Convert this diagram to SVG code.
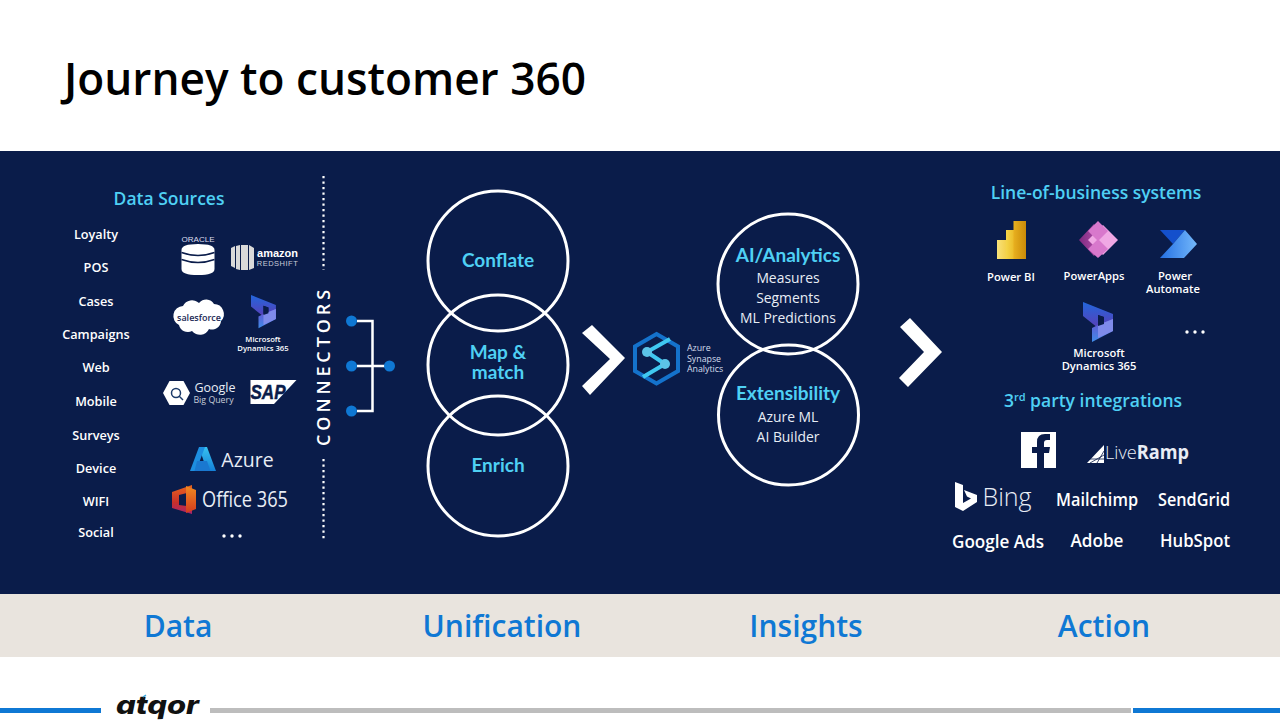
<svg xmlns="http://www.w3.org/2000/svg" width="1280" height="720" viewBox="0 0 1280 720">
<style>
text{font-family:"Open Sans","Noto Sans","Liberation Sans",sans-serif;text-anchor:middle;fill:#fff}
.h{fill:#4fd0f4;font-size:17.5px;font-weight:600}
.l{font-size:12.700px;font-weight:600}
.c{fill:none;stroke:#fff;stroke-width:3}
.ct{fill:#4fd0f4;font-family:Lato,"Open Sans",sans-serif;font-size:19px;font-weight:700}
.s{font-size:13.900px;fill:#e8edf5}
.b{fill:#0f78d4;font-size:30px;font-weight:600}
.t{font-size:18px;font-weight:600}
.m{font-size:11.200px;font-weight:600}
.d{fill:#fff}
.dot{fill:#0f78d4}
.chev{fill:#fff}
.wire{fill:none;stroke:#fff;stroke-width:2.500}
.dots{stroke:#fff;stroke-width:2.200;stroke-dasharray:2.200 3.300}
.st{font-size:8.800px;text-anchor:start;fill:#d6dcec}
</style>
<defs>
<linearGradient id="pb1" x1="0" y1="0" x2="1" y2="0"><stop offset="0" stop-color="#f8e27a"/><stop offset="1" stop-color="#f2c93a"/></linearGradient>
<linearGradient id="pb2" x1="0" y1="0" x2="1" y2="0"><stop offset="0" stop-color="#f5d64a"/><stop offset="1" stop-color="#e6ae18"/></linearGradient>
<linearGradient id="pb3" x1="0" y1="0" x2="1" y2="0"><stop offset="0" stop-color="#e8b020"/><stop offset="1" stop-color="#c98a08"/></linearGradient>
<linearGradient id="dy1" x1="0" y1="0" x2="0" y2="1"><stop offset="0" stop-color="#2266dc"/><stop offset="1" stop-color="#5a3fb8"/></linearGradient>
<linearGradient id="dy2" x1="0" y1="0" x2="0" y2="1"><stop offset="0" stop-color="#6a4fd0"/><stop offset="1" stop-color="#3f8ce8"/></linearGradient>
<linearGradient id="az" x1="0" y1="0" x2="0" y2="1"><stop offset="0" stop-color="#37c2f0"/><stop offset="1" stop-color="#1480d8"/></linearGradient>
<linearGradient id="of1" x1="0" y1="0" x2="0" y2="1"><stop offset="0" stop-color="#e8641e"/><stop offset="0.6" stop-color="#c8302a"/><stop offset="1" stop-color="#a8246e"/></linearGradient>
<linearGradient id="of2" x1="0" y1="0" x2="0" y2="1"><stop offset="0" stop-color="#f08a20"/><stop offset="1" stop-color="#d43a1e"/></linearGradient>
<linearGradient id="pa" x1="0" y1="0" x2="1" y2="0"><stop offset="0" stop-color="#7e2a80"/><stop offset="1" stop-color="#c55ab8"/></linearGradient>
<linearGradient id="au" x1="0" y1="0" x2="1" y2="0"><stop offset="0" stop-color="#2470e4"/><stop offset="1" stop-color="#74b8fa"/></linearGradient>
<g id="dynicon">
<path d="M0 0L30 12V25L21 22V15L15 13V26L0 14Z" fill="url(#dy1)"/>
<path d="M30 17V29L9 40V26L15 23L30 17Z" fill="url(#dy2)"/>
<path d="M15 23L30 17V29L15 36Z" fill="#7f8bea"/>
<path d="M15 13L21 15V22L15 24Z" fill="#0a1c4a"/>
</g>
</defs>
<rect width="1280" height="720" fill="#fff"/>
<text id="title" x="325" y="95" style="font-size:45px;font-weight:600;fill:#000" textLength="522" lengthAdjust="spacingAndGlyphs">Journey to customer 360</text>
<rect id="panel" x="0" y="151" width="1280" height="443" fill="#0a1c4a"/>
<rect id="band" x="0" y="594" width="1280" height="63" fill="#e9e4de"/>

<g id="data-sources">
<text class="h" x="169" y="205">Data Sources</text>
<text class="l" x="96" y="239">Loyalty</text>
<text class="l" x="96" y="272">POS</text>
<text class="l" x="96" y="306">Cases</text>
<text class="l" x="96" y="339">Campaigns</text>
<text class="l" x="96" y="372">Web</text>
<text class="l" x="96" y="406">Mobile</text>
<text class="l" x="96" y="440">Surveys</text>
<text class="l" x="96" y="473">Device</text>
<text class="l" x="96" y="506">WIFI</text>
<text class="l" x="96" y="537">Social</text>
</g>
<g id="logo-oracle">
<text x="198" y="242" style="font-size:6.500px;fill:#dde;font-family:'Liberation Sans',sans-serif" textLength="33" lengthAdjust="spacingAndGlyphs">ORACLE</text>
<path d="M181.500 250Q181.500 244 198 244Q214.500 244 214.500 250V269Q214.500 275 198 275Q181.500 275 181.500 269Z" class="d"/>
<path d="M181.500 252.500Q198 258.500 214.500 252.500M181.500 259.500Q198 265.500 214.500 259.500" fill="none" stroke="#0a1c4a" stroke-width="1.500"/>
</g>
<g id="logo-redshift">
<path d="M231 248l4-2v22l-4-2ZM236 246l4-1v25l-4-1ZM241 245h7v25h-7ZM249 245l5 3v20l-5 2Z" fill="#d9d9d9"/>
<text x="277.500" y="257" style="font-family:'Liberation Sans',sans-serif;font-size:11px;font-weight:700">amazon<tspan x="277.500" dy="9" style="font-size:7.500px;font-weight:400;fill:#c8ccd8;letter-spacing:.5px">REDSHIFT</tspan></text>
</g>
<g id="logo-salesforce">
<path d="M183 306a10 10 0 0 1 16-3a9 9 0 0 1 15 1a10 10 0 0 1 7 17a9 9 0 0 1-12 8a10 10 0 0 1-17 2a9 9 0 0 1-13-6a10 10 0 0 1 4-19Z" class="d"/>
<text x="199" y="321" style="font-size:9px;font-weight:600;fill:#1b2a55">salesforce</text>
</g>
<g id="logo-dynamics-a">
<use href="#dynicon" transform="translate(251 295) scale(.83)"/>
<text class="m" x="263" y="342" style="font-size:7.700px">Microsoft<tspan x="263" dy="9">Dynamics 365</tspan></text>
</g>
<g id="logo-bigquery">
<path d="M163 393l6.500-12h14l6.500 12l-6.500 12h-14Z" class="d"/>
<circle cx="176" cy="393" r="4.500" fill="none" stroke="#1b3a6a" stroke-width="1.500"/>
<path d="M179 396l4 4" stroke="#1b3a6a" stroke-width="1.500"/>
<text x="215" y="392" style="font-size:12.500px;fill:#e8edf5">Google<tspan x="213.500" dy="11" style="font-size:8.800px;fill:#c8ccd8">Big Query</tspan></text>
</g>
<g id="logo-sap">
<path d="M250.500 380H296.500L274 404H250.500Z" class="d"/>
<text x="268" y="399" style="font-family:'Liberation Sans',sans-serif;font-size:20px;font-weight:700;font-style:italic;fill:#0a1c4a;stroke:#0a1c4a;stroke-width:.5" textLength="35" lengthAdjust="spacingAndGlyphs">SAP</text>
</g>
<g id="logo-azure">
<path d="M199 447h8l9 24h-9Z" fill="url(#az)"/>
<path d="M199 447h6l-9 24h-6Z" fill="#1d8ee0"/>
<path d="M197 461h10l3.500 10h-16Z" fill="#1a78d0"/>
<text x="247.500" y="467" style="font-size:19.500px;fill:#e8edf5">Azure</text>
</g>
<g id="logo-office">
<path d="M172 492L192 485V514L172 508Z" fill="url(#of1)"/>
<path d="M179 495L187 493V506L179 505Z" fill="#0a1c4a"/>
<path d="M186 486L196 490V509L186 513Z" fill="url(#of2)"/>
<text x="245" y="507" style="font-size:22px;fill:#e8edf5" textLength="86" lengthAdjust="spacingAndGlyphs">Office 365</text>
</g>
<g id="more-a"><circle class="d" cx="224" cy="536" r="1.700"/><circle class="d" cx="232" cy="536" r="1.700"/><circle class="d" cx="240" cy="536" r="1.700"/></g>

<g id="connectors-label">
<line class="dots" x1="323.500" y1="176" x2="323.500" y2="270"/>
<text transform="translate(330 366) rotate(-90)" style="font-size:18px;font-weight:600;letter-spacing:3.900px">CONNECTORS</text>
<line class="dots" x1="323.500" y1="459" x2="323.500" y2="541"/>
</g>
<g id="connectors">
<path class="wire" d="M357 321H372.500V411H357M357 366H385"/>
<circle class="dot" cx="351.500" cy="321" r="5.500"/>
<circle class="dot" cx="351.500" cy="366" r="5.500"/>
<circle class="dot" cx="351.500" cy="411" r="5.500"/>
<circle class="dot" cx="389.500" cy="366" r="5.500"/>
</g>

<g id="conflate"><circle class="c" cx="498" cy="261" r="70"/><text class="ct" x="498" y="267">Conflate</text></g>
<g id="map-match"><circle class="c" cx="498" cy="365" r="70"/><text class="ct" x="498" y="359">Map &amp;<tspan x="498" dy="20">match</tspan></text></g>
<g id="enrich"><circle class="c" cx="498" cy="466" r="70"/><text class="ct" x="498" y="472">Enrich</text></g>

<polygon id="chevron-1" class="chev" points="592,325 625,358 590,395 582,386 610,359 582,333"/>
<g id="synapse">
<path d="M656.500 334L678 346.500V371L656.500 383.500L635 371V346.500Z" fill="none" stroke="#1472cc" stroke-width="4"/>
<path d="M647 352L670 339M647 352L665 364M665 364L643 377" fill="none" stroke="#40c8f0" stroke-width="4"/>
<circle cx="647" cy="352" r="5" fill="#5cc4e8"/><circle cx="665" cy="364" r="5" fill="#5cc4e8"/>
<text class="st" x="687" y="351">Azure<tspan x="687" dy="10.500">Synapse</tspan><tspan x="687" dy="10.500">Analytics</tspan></text>
</g>

<g id="ai-analytics"><circle class="c" cx="788" cy="284" r="70"/>
<text class="ct" x="788" y="262">AI/Analytics</text>
<text class="s" x="788" y="283">Measures<tspan x="788" dy="20">Segments</tspan><tspan x="788" dy="20">ML Predictions</tspan></text></g>
<g id="extensibility"><circle class="c" cx="788.500" cy="415" r="70"/>
<text class="ct" x="788" y="400">Extensibility</text>
<text class="s" x="788" y="422">Azure ML<tspan x="788" dy="20">AI Builder</tspan></text></g>
<polygon id="chevron-2" class="chev" points="910,318 942,352 908,387 899,378 924,352 900,327"/>

<g id="lob"><text class="h" x="1096" y="199">Line-of-business systems</text></g>
<g id="powerbi">
<rect x="997" y="240" width="13" height="19" fill="url(#pb1)"/><rect x="1006" y="230" width="12" height="29" fill="url(#pb2)"/><rect x="1013.500" y="221" width="12.500" height="38" fill="url(#pb3)"/>
<text class="m" x="1011" y="281">Power BI</text>
</g>
<g id="powerapps">
<path d="M1079 240L1094 224L1105 240L1094 256Z" fill="url(#pa)"/>
<path d="M1103 225L1118 240L1103 255L1088 240Z" fill="#f0a8e4"/>
<path d="M1098 221L1108 231L1098 241L1088 231ZM1098 239L1108 249L1098 258L1088 249Z" fill="#d878cc"/>
<text class="m" x="1094" y="280">PowerApps</text>
</g>
<g id="automate">
<path d="M1160 230H1185L1173 244Z" fill="#1450cc"/>
<path d="M1185 230L1197 244L1184 258H1160L1173 244Z" fill="url(#au)"/>
<text class="m" x="1175" y="280">Power<tspan x="1173" dy="13">Automate</tspan></text>
</g>
<g id="logo-dynamics-b">
<use href="#dynicon" transform="translate(1083 302)"/>
<text class="m" x="1099" y="357">Microsoft<tspan x="1099" dy="13">Dynamics 365</tspan></text>
</g>
<g id="more-b"><circle class="d" cx="1187" cy="332" r="1.700"/><circle class="d" cx="1195" cy="332" r="1.700"/><circle class="d" cx="1203" cy="332" r="1.700"/></g>
<g id="third"><text class="h" x="1093" y="407">3<tspan dy="-6" style="font-size:11px">rd</tspan><tspan dy="6"> party integrations</tspan></text></g>
<g id="facebook">
<rect x="1021" y="432" width="35" height="36" class="d"/>
<path d="M1044 468V453h5l1-6h-6v-4q0-3 3-3h3v-6h-5q-8 0-8 8v5h-5v6h5v15Z" fill="#0a1c4a"/>
</g>
<g id="liveramp">
<path d="M1087 463L1104 445V463Z" class="d"/>
<path d="M1090 463L1104 455M1097 463L1104 451M1089 459H1104" stroke="#0a1c4a" stroke-width=".8"/>
<text x="1147" y="459" style="font-size:19px;fill:#e8edf5" textLength="84" lengthAdjust="spacingAndGlyphs"><tspan font-weight="300">Live</tspan><tspan font-weight="700">Ramp</tspan></text>
</g>
<g id="bing">
<path d="M955 482L963 485V503L971 498.500L967 496.500L964 490L977 495V502L963 511L955 507Z" class="d"/>
<text x="1007" y="506" style="font-size:25px;font-weight:300;fill:#e8edf5">Bing</text>
</g>
<g id="integrations">
<text class="t" x="1097" y="506" textLength="82" lengthAdjust="spacingAndGlyphs">Mailchimp</text>
<text class="t" x="1194" y="506" textLength="72" lengthAdjust="spacingAndGlyphs">SendGrid</text>
<text class="t" x="998" y="548" textLength="92" lengthAdjust="spacingAndGlyphs">Google Ads</text>
<text class="t" x="1097" y="547" textLength="53" lengthAdjust="spacingAndGlyphs">Adobe</text>
<text class="t" x="1195" y="547" textLength="70" lengthAdjust="spacingAndGlyphs">HubSpot</text>
</g>

<g id="stages">
<text class="b" x="178" y="637">Data</text>
<text class="b" x="502" y="637">Unification</text>
<text class="b" x="806" y="637">Insights</text>
<text class="b" x="1104" y="637">Action</text>
</g>
<g id="footer">
<rect x="0" y="708" width="101" height="5" fill="#0f78d4"/>
<rect x="210" y="708" width="921" height="5" fill="#bdbdbd"/>
<rect x="1133" y="708" width="147" height="5" fill="#0f78d4"/>
<text x="157.500" y="714" style="font-family:Inter,'Liberation Sans',sans-serif;font-size:25px;font-weight:800;font-style:italic;fill:#111" textLength="83" lengthAdjust="spacingAndGlyphs">atqor</text>
<path d="M143 697l3-2" stroke="#3aa8e0" stroke-width="1.500"/>
</g>
</svg>
